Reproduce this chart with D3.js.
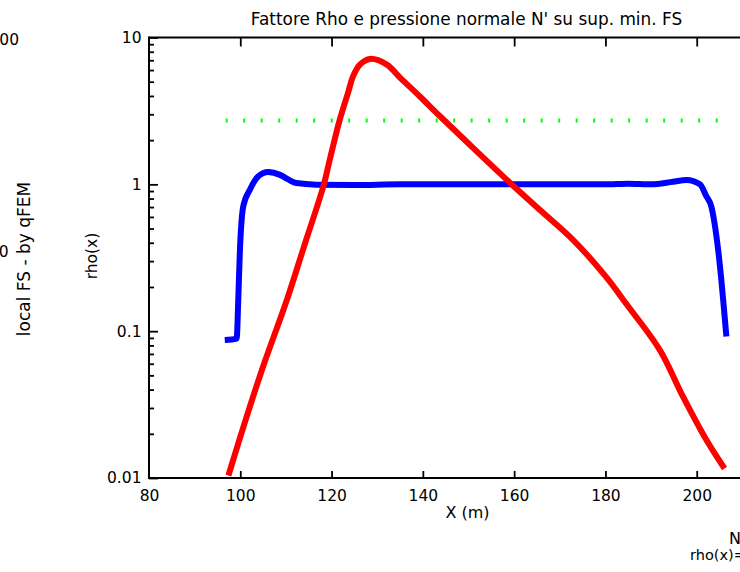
<!DOCTYPE html>
<html>
<head>
<meta charset="utf-8">
<script src="https://cdn.jsdelivr.net/npm/d3@7"></script>
<style>
  html, body { margin: 0; padding: 0; background: #fff; }
  svg { display: block; }
  text { font-family: "DejaVu Sans", Verdana, sans-serif; fill: #000; }
</style>
</head>
<body>
<svg id="chart" width="740" height="572"></svg>
<script>
// ---- data ----
const titleText = "Fattore Rho e pressione normale N' su sup. min. FS";
const xTicks = [80, 100, 120, 140, 160, 180, 200, 220];
const yTicks = [0.01, 0.1, 1, 10];
const yTickLabels = ["0.01", "0.1", "1", "10"];

// rho(x) (blue)
const rhoX = [96.6, 99.2, 99.6, 99.9, 100.65, 102.1, 103.9, 106.1, 108.7, 110.5, 112.3, 116.7, 125, 135, 150, 165, 180, 185, 190, 194.8, 197.8, 200.7, 202.1, 203.2, 204.7, 206.5];
const rhoY = [0.087, 0.089, 0.18, 0.342, 0.707, 0.919, 1.132, 1.213, 1.16, 1.08, 1.02, 0.995, 0.99, 1.0, 1.0, 1.0, 1.0, 1.01, 1.0, 1.04, 1.07, 1.0, 0.83, 0.707, 0.358, 0.092];

// normal pressure N' (red)
const nX = [97.4, 101.4, 105.0, 110.2, 114.2, 118.2, 119.6, 121.8, 123.6, 124.7, 126.2, 128.4, 132.1, 135.0, 139.4, 143.7, 149.6, 159.8, 165.6, 172.9, 180.1, 184.6, 191.9, 197.0, 202.1, 206.1];
const nY = [0.0104, 0.0262, 0.0574, 0.163, 0.398, 0.97, 1.47, 2.76, 4.19, 5.44, 6.54, 7.15, 6.54, 5.33, 3.95, 2.92, 1.95, 0.978, 0.671, 0.419, 0.235, 0.153, 0.0746, 0.0358, 0.0182, 0.0116];

// FS reference (green dotted)
const fsX = [96.8, 205.5];
const fsY = [2.72, 2.72];

// ---- layout ----
const svg = d3.select("#chart");
const pL = 149, pR = 788, pT = 37.5, pB = 478;

const x = d3.scaleLinear().domain([80, 220]).range([pL, pR]);
const y = d3.scaleLog().domain([0.01, 10]).range([pB, pT]);

// title
svg.append("text").attr("x", 466.5).attr("y", 24.5).attr("text-anchor", "middle")
  .attr("font-size", 16.9).text(titleText);

// axis frame lines
const ax = svg.append("g").attr("stroke", "#000").attr("stroke-width", 2).attr("fill", "none");
ax.append("line").attr("x1", pL).attr("x2", pR + 5).attr("y1", y(10)).attr("y2", y(10));
ax.append("line").attr("x1", pL).attr("x2", pR + 5).attr("y1", y(0.01)).attr("y2", y(0.01));
ax.append("line").attr("x1", x(80)).attr("x2", x(80)).attr("y1", pT - 1).attr("y2", pB + 1);

// bottom x axis (ticks inward)
const xAxisB = d3.axisBottom(x).tickValues(xTicks).tickSizeInner(-7).tickSizeOuter(0).tickPadding(12).tickFormat(d3.format("d"));
const gxb = svg.append("g").attr("transform", `translate(0,${pB})`).call(xAxisB);
gxb.select(".domain").remove();
gxb.selectAll(".tick line").attr("stroke", "#000").attr("stroke-width", 1.8);
gxb.selectAll(".tick").filter(d => d === 80).select("line").remove();
gxb.selectAll("text").attr("font-size", 15.5).attr("font-family", "DejaVu Sans, sans-serif").attr("fill", "#000");

// top x axis (ticks inward, no labels)
const xAxisT = d3.axisTop(x).tickValues(xTicks.filter(d => d !== 80)).tickSizeInner(-9).tickSizeOuter(0).tickFormat("");
const gxt = svg.append("g").attr("transform", `translate(0,${pT})`).call(xAxisT);
gxt.select(".domain").remove();
gxt.selectAll(".tick line").attr("stroke", "#000").attr("stroke-width", 1.8);

// left y axis: major ticks
const yAxis = d3.axisLeft(y).tickValues(yTicks).tickSizeInner(-9).tickSizeOuter(0).tickPadding(7.5)
  .tickFormat((d, i) => yTickLabels[i]);
const gy = svg.append("g").attr("transform", `translate(${pL},0)`).call(yAxis);
gy.select(".domain").remove();
gy.selectAll(".tick line").attr("stroke", "#000").attr("stroke-width", 1.8);
gy.selectAll("text").attr("font-size", 15.5).attr("font-family", "DejaVu Sans, sans-serif").attr("fill", "#000");

// minor ticks
const minor = [];
[0.01, 0.1, 1].forEach(b => { for (let k = 2; k <= 9; k++) minor.push(b * k); });
const yAxisMinor = d3.axisLeft(y).tickValues(minor).tickSizeInner(-5).tickSizeOuter(0).tickFormat("");
const gym = svg.append("g").attr("transform", `translate(${pL},0)`).call(yAxisMinor);
gym.select(".domain").remove();
gym.selectAll(".tick line").attr("stroke", "#000").attr("stroke-width", 1.8);

// axis titles
svg.append("text").attr("x", 467.5).attr("y", 518).attr("text-anchor", "middle").attr("font-size", 16).text("X (m)");
svg.append("text").attr("transform", "translate(97,256) rotate(-90)").attr("text-anchor", "middle").attr("font-size", 15.5).text("rho(x)");

// fragments of neighbouring plots
svg.append("text").attr("x", 19).attr("y", 45).attr("text-anchor", "end").attr("font-size", 15.5).text("100");
svg.append("text").attr("x", 8.5).attr("y", 257).attr("text-anchor", "end").attr("font-size", 15.5).text("10");
svg.append("text").attr("transform", "translate(29.5,259) rotate(-90)").attr("text-anchor", "middle").attr("font-size", 17).text("local FS - by qFEM");
svg.append("text").attr("x", 729).attr("y", 544).attr("font-size", 16).text("N");
svg.append("text").attr("x", 690).attr("y", 560).attr("font-size", 14.5).text("rho(x)=");

// lines
svg.append("defs").append("clipPath").attr("id", "plotclip")
  .append("rect").attr("x", pL).attr("y", pT).attr("width", pR - pL).attr("height", pB - pT);

const lineRho = d3.line().x(d => x(d[0])).y(d => y(d[1])).curve(d3.curveMonotoneX);
const lineN = d3.line().x(d => x(d[0])).y(d => y(d[1])).curve(d3.curveCatmullRom.alpha(0.5));
const plot = svg.append("g").attr("clip-path", "url(#plotclip)");

plot.append("path").datum(d3.zip(fsX, fsY)).attr("d", d3.line().x(d => x(d[0])).y(d => y(d[1])))
  .attr("fill", "none").attr("stroke", "#00ff00").attr("stroke-width", 4)
  .attr("stroke-dasharray", "2 15.5").attr("stroke-dashoffset", 0);

plot.append("path").datum(d3.zip(rhoX, rhoY)).attr("d", lineRho)
  .attr("fill", "none").attr("stroke", "#0000ff").attr("stroke-width", 6).attr("stroke-linejoin", "round");

plot.append("path").datum(d3.zip(nX, nY)).attr("d", lineN)
  .attr("fill", "none").attr("stroke", "#ff0000").attr("stroke-width", 6).attr("stroke-linejoin", "round");
</script>
</body>
</html>
